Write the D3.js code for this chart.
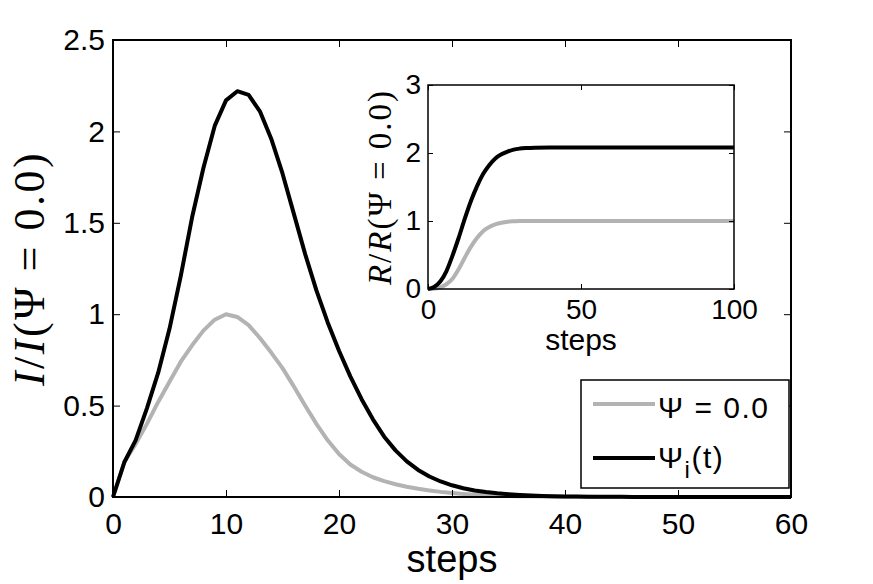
<!DOCTYPE html>
<html>
<head>
<meta charset="utf-8">
<script src="https://cdn.jsdelivr.net/npm/d3@7"></script>
<style>
  body { margin: 0; background: #fff; }
  svg { display: block; }
</style>
</head>
<body>
<svg width="873" height="584"></svg>
<script>
// main plot: I / I(psi = 0) against steps
let steps = d3.range(0, 61);
let infectedBase = [0, 0.19, 0.29, 0.40, 0.52, 0.63, 0.74, 0.83, 0.91, 0.97,
    1.0, 0.985, 0.94, 0.87, 0.79, 0.705, 0.605, 0.50, 0.40, 0.31,
    0.235, 0.178, 0.138, 0.108, 0.087, 0.07, 0.056, 0.045, 0.036, 0.028,
    0.022, 0.017, 0.013, 0.01, 0.008, 0.006, 0.0045, 0.0035, 0.0026, 0.002,
    0.0015, 0.0011, 0.0008, 0.0006, 0.0005, 0.0004, 0.0003, 0.0002, 0.0002, 0.0001,
    0.0001, 0.0001, 0, 0, 0, 0, 0, 0, 0, 0, 0];
let infectedPsi = [0, 0.19, 0.31, 0.485, 0.68, 0.92, 1.21, 1.53, 1.80, 2.03,
    2.17, 2.22, 2.20, 2.11, 1.96, 1.77, 1.55, 1.33, 1.13, 0.955,
    0.80, 0.66, 0.535, 0.425, 0.33, 0.255, 0.195, 0.148, 0.112, 0.085,
    0.064, 0.048, 0.036, 0.027, 0.02, 0.015, 0.011, 0.008, 0.006, 0.0045,
    0.0033, 0.0025, 0.0018, 0.0013, 0.001, 0.0007, 0.0005, 0.0004, 0.0003, 0.0002,
    0.00015, 0.0001, 0.0001, 0, 0, 0, 0, 0, 0, 0, 0];

// inset: R / R(psi = 0) against steps
let insetSteps = [0, 2, 4, 6, 8, 10, 12, 14, 16, 18, 20, 22, 24, 26, 28, 30, 32, 35, 40, 50, 60, 70, 80, 90, 100];
let recoveredBase = [0, 0.005, 0.025, 0.07, 0.15, 0.29, 0.46, 0.62, 0.75, 0.85, 0.91, 0.95, 0.975, 0.99, 0.996, 1.0, 1.0, 1.0, 1.0, 1.0, 1.0, 1.0, 1.0, 1.0, 1.0];
let recoveredPsi = [0, 0.03, 0.11, 0.26, 0.49, 0.75, 1.03, 1.29, 1.51, 1.69, 1.82, 1.92, 1.98, 2.02, 2.05, 2.065, 2.073, 2.078, 2.08, 2.08, 2.08, 2.08, 2.08, 2.08, 2.08];

let xTicks = [0, 10, 20, 30, 40, 50, 60];
let yTicks = [0, 0.5, 1, 1.5, 2, 2.5];
let insetXTicks = [0, 50, 100];
let insetYTicks = [0, 1, 2, 3];

let grey = '#b3b3b3';
let sans = '"Liberation Sans", Arial, sans-serif';
let serif = '"Liberation Serif", "Times New Roman", serif';

let svg = d3.select('svg');

// ---------- main axes ----------
let x = d3.scaleLinear().domain([0, 60]).range([113, 791]);
let y = d3.scaleLinear().domain([0, 2.5]).range([497, 40]);

let line = d3.line()
    .x((d) => x(d[0]))
    .y((d) => y(d[1]));

svg.append('path')
    .datum(steps.map((s, i) => [s, infectedBase[i]]))
    .attr('d', line)
    .attr('fill', 'none')
    .attr('stroke', grey)
    .attr('stroke-width', 4)
    .attr('stroke-linejoin', 'round');

svg.append('path')
    .datum(steps.map((s, i) => [s, infectedPsi[i]]))
    .attr('d', line)
    .attr('fill', 'none')
    .attr('stroke', '#000')
    .attr('stroke-width', 4)
    .attr('stroke-linejoin', 'round');

function styleAxis(g, size) {
    g.select('.domain').remove();
    g.selectAll('.tick line').attr('stroke', '#000').attr('stroke-width', 1);
    g.selectAll('.tick text')
        .attr('fill', '#000')
        .style('font-family', sans)
        .style('font-size', size + 'px');
}

svg.append('g')
    .attr('transform', `translate(0, ${y(0)})`)
    .call(d3.axisBottom(x).tickValues(xTicks).tickSize(-7).tickSizeOuter(0).tickPadding(16))
    .call((g) => styleAxis(g, 30));

svg.append('g')
    .attr('transform', `translate(0, ${y(2.5)})`)
    .call(d3.axisTop(x).tickValues(xTicks).tickSize(-7).tickSizeOuter(0).tickFormat(''))
    .call((g) => styleAxis(g, 30));

svg.append('g')
    .attr('transform', `translate(${x(0)}, 0)`)
    .call(d3.axisLeft(y).tickValues(yTicks).tickSize(-7).tickSizeOuter(0).tickPadding(8)
        .tickFormat((d) => String(d)))
    .call((g) => styleAxis(g, 30));

svg.append('g')
    .attr('transform', `translate(${x(60)}, 0)`)
    .call(d3.axisRight(y).tickValues(yTicks).tickSize(-7).tickSizeOuter(0).tickFormat(''))
    .call((g) => styleAxis(g, 30));

svg.append('rect')
    .attr('x', x(0))
    .attr('y', y(2.5))
    .attr('width', x(60) - x(0))
    .attr('height', y(0) - y(2.5))
    .attr('fill', 'none')
    .attr('stroke', '#000')
    .attr('stroke-width', 2);

svg.append('text')
    .attr('x', (x(0) + x(60)) / 2)
    .attr('y', 572)
    .attr('text-anchor', 'middle')
    .style('font-family', sans)
    .style('font-size', '38px')
    .text('steps');

let yLab = svg.append('text')
    .attr('transform', `translate(44, ${(y(0) + y(2.5)) / 2}) rotate(-90)`)
    .attr('text-anchor', 'middle')
    .style('font-family', serif)
    .style('font-size', '44px')
    .style('letter-spacing', '2.5px');
yLab.append('tspan').style('font-style', 'italic').text('I');
yLab.append('tspan').text('/');
yLab.append('tspan').style('font-style', 'italic').text('I');
yLab.append('tspan').text('(Ψ = 0.0)');

// ---------- inset ----------
let ix = d3.scaleLinear().domain([0, 100]).range([428, 734]);
let iy = d3.scaleLinear().domain([0, 3]).range([289, 85]);

svg.append('rect')
    .attr('x', ix(0))
    .attr('y', iy(3))
    .attr('width', ix(100) - ix(0))
    .attr('height', iy(0) - iy(3))
    .attr('fill', '#fff');

let iline = d3.line()
    .x((d) => ix(d[0]))
    .y((d) => iy(d[1]))
    .curve(d3.curveMonotoneX);

svg.append('path')
    .datum(insetSteps.map((s, i) => [s, recoveredBase[i]]))
    .attr('d', iline)
    .attr('fill', 'none')
    .attr('stroke', grey)
    .attr('stroke-width', 4);

svg.append('path')
    .datum(insetSteps.map((s, i) => [s, recoveredPsi[i]]))
    .attr('d', iline)
    .attr('fill', 'none')
    .attr('stroke', '#000')
    .attr('stroke-width', 4);

svg.append('g')
    .attr('transform', `translate(0, ${iy(0)})`)
    .call(d3.axisBottom(ix).tickValues(insetXTicks).tickSize(-5).tickSizeOuter(0).tickPadding(10)
        .tickFormat((d) => String(d)))
    .call((g) => styleAxis(g, 28));

svg.append('g')
    .attr('transform', `translate(0, ${iy(3)})`)
    .call(d3.axisTop(ix).tickValues(insetXTicks).tickSize(-5).tickSizeOuter(0).tickFormat(''))
    .call((g) => styleAxis(g, 28));

svg.append('g')
    .attr('transform', `translate(${ix(0)}, 0)`)
    .call(d3.axisLeft(iy).tickValues(insetYTicks).tickSize(-5).tickSizeOuter(0).tickPadding(7)
        .tickFormat((d) => String(d)))
    .call((g) => styleAxis(g, 28));

svg.append('g')
    .attr('transform', `translate(${ix(100)}, 0)`)
    .call(d3.axisRight(iy).tickValues(insetYTicks).tickSize(-5).tickSizeOuter(0).tickFormat(''))
    .call((g) => styleAxis(g, 28));

svg.append('rect')
    .attr('x', ix(0))
    .attr('y', iy(3))
    .attr('width', ix(100) - ix(0))
    .attr('height', iy(0) - iy(3))
    .attr('fill', 'none')
    .attr('stroke', '#000')
    .attr('stroke-width', 1.5);

svg.append('text')
    .attr('x', (ix(0) + ix(100)) / 2)
    .attr('y', 350)
    .attr('text-anchor', 'middle')
    .style('font-family', sans)
    .style('font-size', '30px')
    .text('steps');

let iyLab = svg.append('text')
    .attr('transform', `translate(391, ${(iy(0) + iy(3)) / 2}) rotate(-90)`)
    .attr('text-anchor', 'middle')
    .style('font-family', serif)
    .style('font-size', '33px')
    .style('letter-spacing', '2px');
iyLab.append('tspan').style('font-style', 'italic').text('R');
iyLab.append('tspan').text('/');
iyLab.append('tspan').style('font-style', 'italic').text('R');
iyLab.append('tspan').text('(Ψ = 0.0)');

// ---------- legend ----------
let legend = svg.append('g');
legend.append('rect')
    .attr('x', 581)
    .attr('y', 380)
    .attr('width', 208)
    .attr('height', 108)
    .attr('fill', '#fff')
    .attr('stroke', '#000')
    .attr('stroke-width', 1.5);

let legendItems = [
    { color: grey, y: 404 },
    { color: '#000', y: 458 }
];
legend.selectAll('line.key')
    .data(legendItems)
    .enter()
    .append('line')
    .attr('class', 'key')
    .attr('x1', 593)
    .attr('x2', 655)
    .attr('y1', (d) => d.y)
    .attr('y2', (d) => d.y)
    .attr('stroke', (d) => d.color)
    .attr('stroke-width', 4);

legend.append('text')
    .attr('x', 658)
    .attr('y', 418)
    .style('font-family', sans)
    .style('font-size', '30px')
    .style('letter-spacing', '1.5px')
    .text('Ψ = 0.0');

let l2 = legend.append('text')
    .attr('x', 658)
    .attr('y', 468)
    .style('font-family', sans)
    .style('font-size', '30px')
    .style('letter-spacing', '1.5px');
l2.append('tspan').text('Ψ');
l2.append('tspan').attr('dy', 10).style('font-size', '24px').text('i');
l2.append('tspan').attr('dy', -10).text('(t)');
</script>
</body>
</html>
